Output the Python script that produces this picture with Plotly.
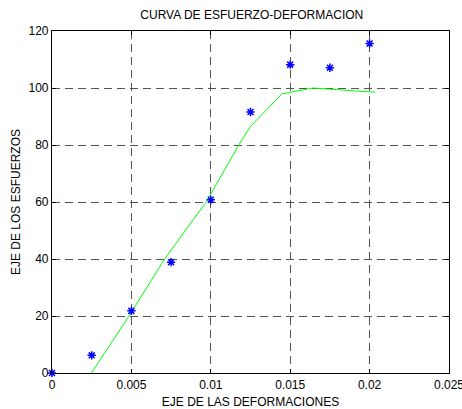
import plotly.graph_objects as go

strain_pts = [0.0, 0.0025, 0.005, 0.0075, 0.01, 0.0125, 0.015, 0.0175, 0.02]
stress_pts = [0.0, 6.2, 21.8, 38.9, 60.8, 91.6, 108.2, 107.1, 115.6]

fit_strain = [0.00248, 0.00485, 0.00709, 0.00971, 0.01176, 0.01248, 0.01447, 0.01643, 0.02036]
fit_stress = [0.0, 20.0, 40.0, 60.0, 80.0, 86.4, 97.9, 100.0, 98.5]

x_ticks = [0, 0.005, 0.01, 0.015, 0.02, 0.025]
x_labels = ["0", "0.005", "0.01", "0.015", "0.02", "0.025"]
y_ticks = [0, 20, 40, 60, 80, 100, 120]

font = "Liberation Sans, Arial, sans-serif"

fig = go.Figure()
fig.add_trace(go.Scatter(x=fit_strain, y=fit_stress, mode="lines",
                         line=dict(color="#00ff00", width=1), showlegend=False))
fig.add_trace(go.Scatter(x=strain_pts, y=stress_pts, mode="markers",
                         marker=dict(symbol="asterisk-open", size=7, color="#0000ff",
                                     line=dict(color="#0000ff", width=1.5)),
                         showlegend=False, cliponaxis=False))

axis_common = dict(showline=True, linecolor="black", linewidth=1.2, mirror="ticks",
                   ticks="inside", ticklen=4, tickcolor="black", automargin=False,
                   showgrid=True, gridcolor="#555555", griddash="8px,5px", gridwidth=1.3,
                   zeroline=False, ticklabeloverflow="allow",
                   tickfont=dict(family=font, size=12, color="black"))

fig.update_layout(
    width=462, height=409,
    margin=dict(l=52, r=13, t=31, b=36),
    paper_bgcolor="white", plot_bgcolor="white",
    title=dict(text="CURVA DE ESFUERZO-DEFORMACION", x=0.545, xanchor="center",
               y=0.965, yanchor="middle",
               font=dict(family=font, size=12, color="black")),
    xaxis=dict(range=[0, 0.025], tickvals=x_ticks, ticktext=x_labels,
               title=dict(text="EJE DE LAS DEFORMACIONES", standoff=8,
                          font=dict(family=font, size=12, color="black")),
               **axis_common),
    yaxis=dict(range=[0, 120], tickvals=y_ticks,
               title=dict(text="EJE DE LOS ESFUERZOS", standoff=5,
                          font=dict(family=font, size=12, color="black")),
               **axis_common),
)

fig.write_html("out.html")
